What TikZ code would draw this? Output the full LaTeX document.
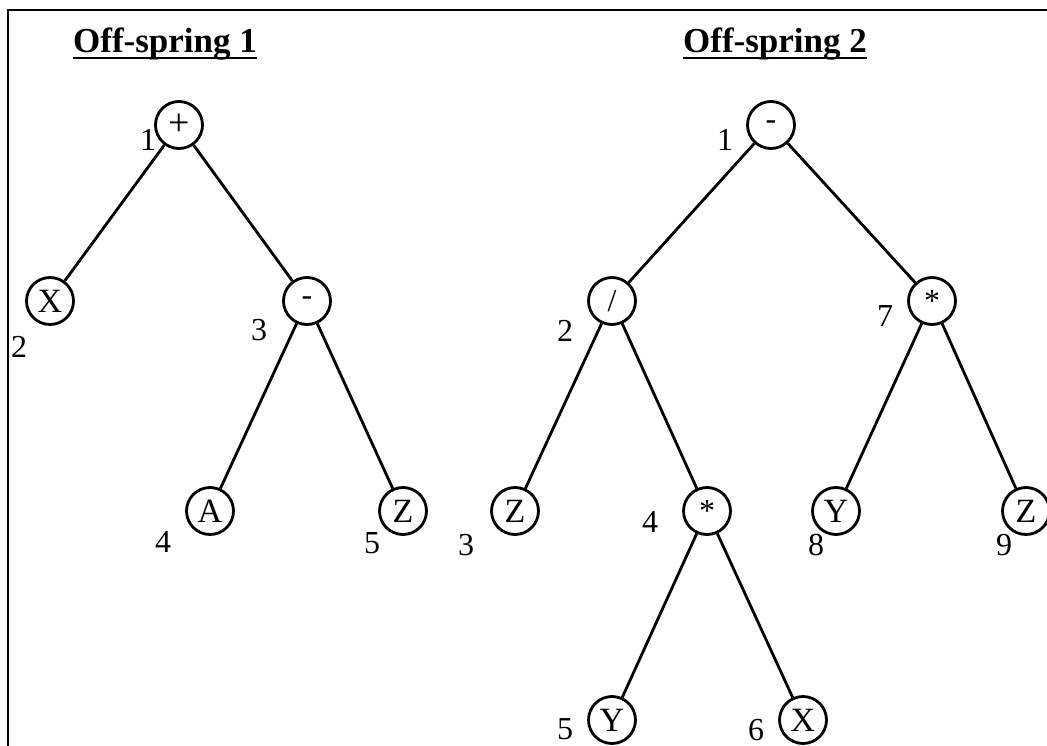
\documentclass[tikz,border=0pt]{standalone}
\usepackage{fontspec}
\setmainfont{Liberation Serif}
\begin{document}
\begin{tikzpicture}[x=1pt,y=-1pt,
  tn/.style={circle,draw,line width=2.8pt,minimum size=47pt,inner sep=0pt,font=\fontsize{34}{36}\selectfont},
  op/.style={tn,font=\fontsize{32}{34}\selectfont},
  num/.style={inner sep=0pt,font=\fontsize{32}{34}\selectfont},
  ttl/.style={inner sep=0pt,anchor=base,font=\bfseries\fontsize{35}{37}\selectfont},
  edge/.style={line width=2.8pt},
  frame/.style={line width=2.2pt}]
\useasboundingbox (0,0) rectangle (1047,746);
% frame
\coordinate (fbl) at (8,746);
\coordinate (ftl) at (8,10);
\coordinate (ftr) at (1047,10);
\draw[frame] (fbl) -- (ftl) -- (ftr);
% titles
\node[ttl] (t1) at (165,53) {Off-spring 1};
\node[ttl] (t2) at (775,53) {Off-spring 2};
\draw[line width=2.2pt] ([yshift=-5pt]t1.base west) -- ([yshift=-5pt]t1.base east);
\draw[line width=2.2pt] ([yshift=-5pt]t2.base west) -- ([yshift=-5pt]t2.base east);
% left tree
\node[op,font=\fontsize{38}{40}\selectfont] (a1) at (179,125) {+};
\node[tn] (a2) at (50,301) {X};
\node[op] (a3) at (307,301) {-};
\node[tn] (a4) at (210,511) {A};
\node[tn] (a5) at (403,511) {Z};
\draw[edge] (a1) -- (a2);
\draw[edge] (a1) -- (a3);
\draw[edge] (a3) -- (a4);
\draw[edge] (a3) -- (a5);
\node[num] (la1) at (148,140) {1};
\node[num] (la2) at (19,347) {2};
\node[num] (la3) at (259,330) {3};
\node[num] (la4) at (163,542) {4};
\node[num] (la5) at (372,543) {5};
% right tree
\node[op] (b1) at (771,125) {-};
\node[op] (b2) at (612,301) {/};
\node[tn] (b3) at (515,511) {Z};
\node[op] (b4) at (707,511) {*};
\node[tn] (b5) at (612,720) {Y};
\node[tn] (b6) at (803,720) {X};
\node[op] (b7) at (932,301) {*};
\node[tn] (b8) at (836,511) {Y};
\node[tn] (b9) at (1026,511) {Z};
\draw[edge] (b1) -- (b2);
\draw[edge] (b1) -- (b7);
\draw[edge] (b2) -- (b3);
\draw[edge] (b2) -- (b4);
\draw[edge] (b4) -- (b5);
\draw[edge] (b4) -- (b6);
\draw[edge] (b7) -- (b8);
\draw[edge] (b7) -- (b9);
\node[num] (lb1) at (725,140) {1};
\node[num] (lb2) at (565,331) {2};
\node[num] (lb3) at (466,545) {3};
\node[num] (lb4) at (650,522) {4};
\node[num] (lb5) at (565,729) {5};
\node[num] (lb6) at (756,730) {6};
\node[num] (lb7) at (885,316) {7};
\node[num] (lb8) at (816,545) {8};
\node[num] (lb9) at (1004,545) {9};
\end{tikzpicture}
\end{document}
